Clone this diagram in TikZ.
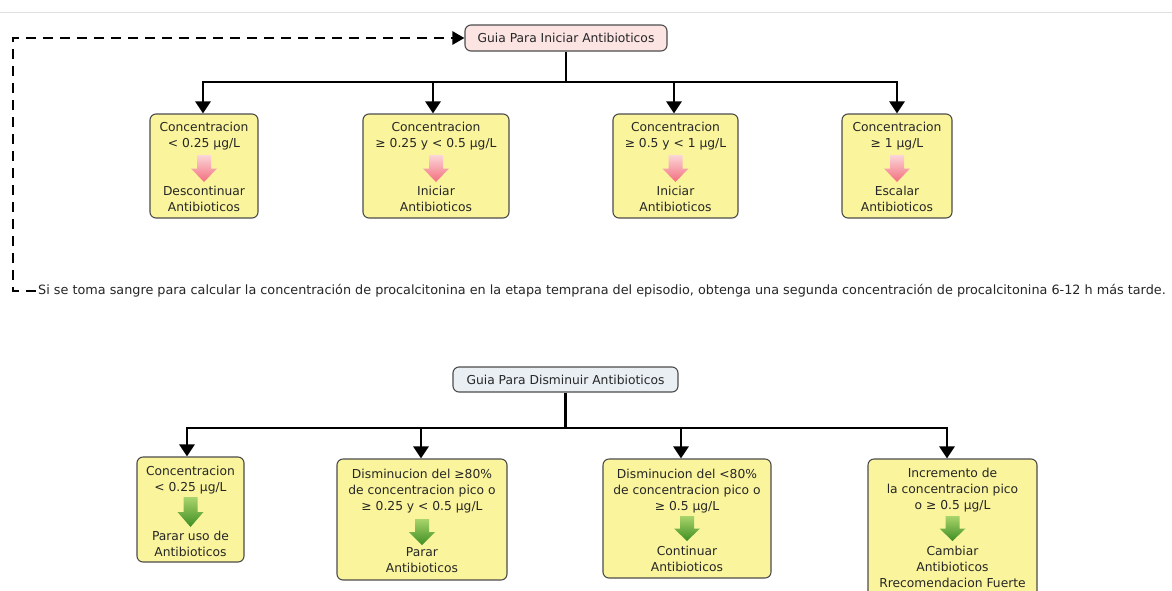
\documentclass[tikz,border=0pt]{standalone}
\usepackage{fontspec}
\setmainfont{DejaVu Sans}
\usetikzlibrary{arrows.meta}
\definecolor{boxyellow}{HTML}{FAF59C}
\definecolor{rootpink}{HTML}{FBE4E2}
\definecolor{rootblue}{HTML}{E9EFF3}
\definecolor{pinktop}{HTML}{FBD6D8}
\definecolor{pinkbot}{HTML}{F36E7E}
\definecolor{greentop}{HTML}{A9D46C}
\definecolor{greenbot}{HTML}{3E8E22}
\newcommand\blockarr[4]{%
  \shade[#4] ({#1-7},{#2}) -- ({#1+7},{#2}) -- ({#1+7},{#2+0.5*(#3-#2)}) -- ({#1+13},{#2+0.5*(#3-#2)})
    -- ({#1},{#3}) -- ({#1-13},{#2+0.5*(#3-#2)}) -- ({#1-7},{#2+0.5*(#3-#2)}) -- cycle;}
\begin{document}
\begin{tikzpicture}[x=1pt,y=-1pt,
  box/.style={draw=black!70, line width=1.1pt, rounded corners=6pt, fill=boxyellow, inner sep=0pt},
  rootbox/.style={draw=black!70, line width=1.1pt, rounded corners=6pt, inner sep=0pt, text=black!85, font=\fontsize{12.3}{14}\selectfont},
  txt/.style={font=\fontsize{12.3}{16}\selectfont, text=black!85, inner sep=0pt, align=center},
  line/.style={line width=2.6pt},
  conn/.style={line width=2.6pt, -{Triangle[width=15pt,length=12pt]}},
  dashconn/.style={line width=2.6pt, dash pattern=on 10pt off 7pt, -{Triangle[width=13pt,length=12pt]}},
  pinkarr/.style={top color=pinktop, bottom color=pinkbot},
  greenarr/.style={top color=greentop, bottom color=greenbot}]
\clip (0,0) rectangle (1172,590);
\fill[white] (0,0) rectangle (1172,590);
\draw[black!12, line width=0.8pt] (0,12) -- (1172,12);

% ---------- top tree ----------
\node[rootbox, fill=rootpink, minimum width=202, minimum height=26] (r1) at (566,38) {Guia Para Iniciar Antibioticos};
\coordinate (j1) at (566,82);

\node[box, minimum width=108, minimum height=104] (a1) at (204,166) {};
\node[box, minimum width=146, minimum height=104] (a2) at (436,166) {};
\node[box, minimum width=125, minimum height=104] (a3) at (675.5,166) {};
\node[box, minimum width=110, minimum height=104] (a4) at (897,166) {};

\draw[line] (r1.south) -- (j1);
\foreach \n/\s in {a1/-1,a2/-3,a3/-1.5,a4/0} \draw[conn] (j1) -| ([xshift=\s pt]\n.north);

\node[txt] (a1t) at (204,136.5) {Concentracion\\< 0.25 µg/L};
\node[txt] (a1b) at (204,199) {Descontinuar\\Antibioticos};
\node[txt] (a2t) at (436,136.5) {Concentracion\\≥ 0.25 y < 0.5 µg/L};
\node[txt] (a2b) at (436,199) {Iniciar\\Antibioticos};
\node[txt] (a3t) at (675.5,136.5) {Concentracion\\≥ 0.5 y < 1 µg/L};
\node[txt] (a3b) at (675.5,199) {Iniciar\\Antibioticos};
\node[txt] (a4t) at (897,136.5) {Concentracion\\≥ 1 µg/L};
\node[txt] (a4b) at (897,199) {Escalar\\Antibioticos};
\blockarr{204}{155}{182}{pinkarr}
\blockarr{436}{155}{182}{pinkarr}
\blockarr{675.5}{155}{182}{pinkarr}
\blockarr{897}{155}{182}{pinkarr}

% ---------- note ----------
\node[txt, font=\fontsize{12.8}{16}\selectfont, anchor=west] (note) at (38,291) {Si se toma sangre para calcular la concentración de procalcitonina en la etapa temprana del episodio, obtenga una segunda concentración de procalcitonina 6-12 h más tarde.};
\coordinate (k1) at (13,291);
\coordinate (k2) at (13,38);
\draw[dashconn] ([xshift=-2pt]note.west) -- (k1) -- (k2) -- (r1.west);

% ---------- bottom tree ----------
\node[rootbox, fill=rootblue, minimum width=225, minimum height=25] (r2) at (565.5,379.5) {Guia Para Disminuir Antibioticos};
\coordinate (j2) at (565.5,428);

\node[box, minimum width=107, minimum height=105] (b1) at (190.5,509.5) {};
\node[box, minimum width=170, minimum height=121] (b2) at (422,519.5) {};
\node[box, minimum width=168, minimum height=119] (b3) at (687,518.5) {};
\node[box, minimum width=169, minimum height=140] (b4) at (952.5,529) {};

\draw[line] (r2.south) -- (j2);
\foreach \n/\s in {b1/-3.5,b2/-1,b3/-6,b4/-5.5} \draw[conn] (j2) -| ([xshift=\s pt]\n.north);

\node[txt] (b1t) at (190.5,480.5) {Concentracion\\< 0.25 µg/L};
\node[txt] (b1b) at (190.5,544) {Parar uso de\\Antibioticos};
\node[txt] (b2t) at (422,491) {Disminucion del ≥80\%\\de concentracion pico o\\≥ 0.25 y < 0.5 µg/L};
\node[txt] (b2b) at (422,560) {Parar\\Antibioticos};
\node[txt] (b3t) at (687,491) {Disminucion del <80\%\\de concentracion pico o\\≥ 0.5 µg/L};
\node[txt] (b3b) at (687,559) {Continuar\\Antibioticos};
\node[txt] (b4t) at (952.5,490.5) {Incremento de\\la concentracion pico\\o ≥ 0.5 µg/L};
\node[txt] (b4b) at (952.5,567) {Cambiar\\Antibioticos\\Rrecomendacion Fuerte};
\blockarr{190.5}{497}{527}{greenarr}
\blockarr{422}{519}{545}{greenarr}
\blockarr{687}{516}{541}{greenarr}
\blockarr{952.5}{516}{541}{greenarr}
\end{tikzpicture}
\end{document}
